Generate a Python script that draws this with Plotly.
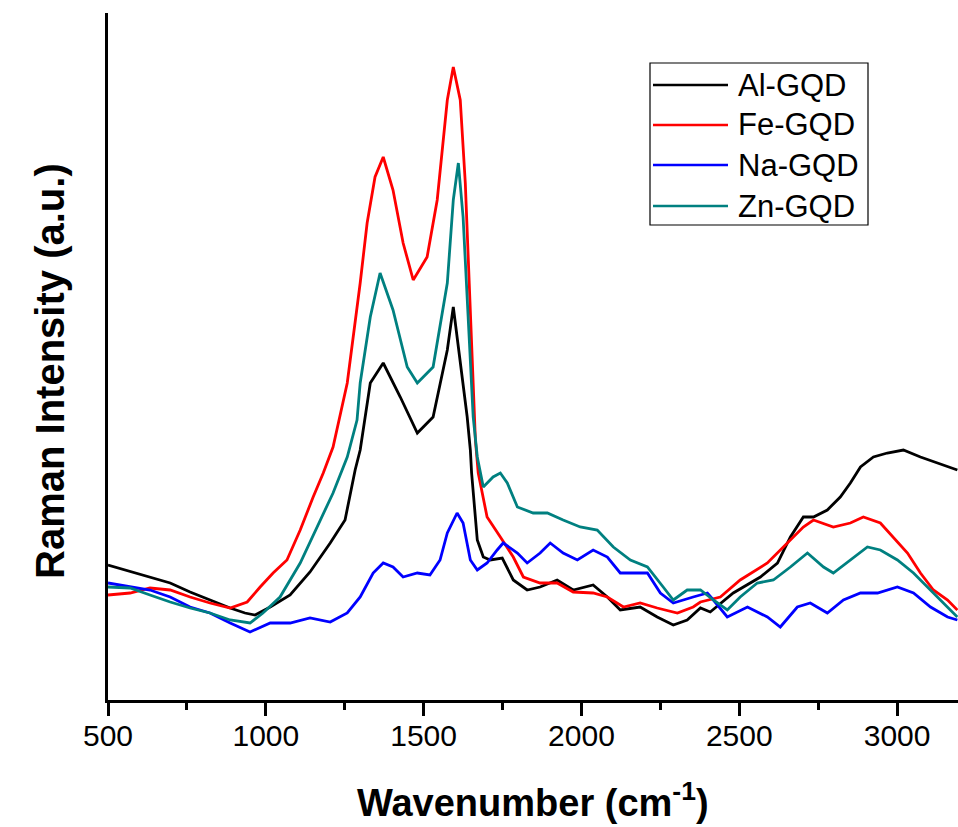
import plotly.graph_objects as go

# Al-GQD (black)
al_x = [500, 633, 697, 760, 823, 887, 934, 966, 1014, 1077, 1140, 1204, 1251, 1283, 1299, 1331, 1372,
        1426, 1480, 1530, 1575, 1594, 1638, 1648, 1652, 1670, 1689, 1711, 1749, 1784, 1828, 1869, 1923,
        1974, 2037, 2082, 2123, 2186, 2240, 2291, 2335, 2377, 2408, 2481, 2567, 2621, 2662, 2703, 2735,
        2779, 2820, 2852, 2884, 2925, 2969, 3020, 3074, 3128, 3191]
al_y = [135, 123, 117, 108, 100, 92, 87, 85, 93, 105, 128, 157, 180, 230, 250, 317, 337,
        303, 267, 283, 350, 393, 283, 250, 227, 160, 143, 140, 142, 120, 110, 113, 120,
        110, 115, 103, 90, 93, 83, 75, 80, 92, 88, 107, 123, 137, 163, 183, 183,
        190, 203, 217, 233, 243, 247, 250, 243, 237, 230]

# Fe-GQD (red)
fe_x = [500, 570, 633, 697, 760, 823, 887, 941, 982, 1023, 1067, 1109, 1150, 1182, 1213, 1258, 1299,
        1321, 1346, 1372, 1403, 1435, 1467, 1511, 1543, 1575, 1594, 1616, 1632, 1648, 1664, 1673, 1701,
        1743, 1784, 1816, 1869, 1923, 1974, 2037, 2082, 2133, 2186, 2240, 2304, 2354, 2377, 2440, 2503,
        2589, 2652, 2703, 2735, 2798, 2852, 2893, 2947, 2988, 3033, 3074, 3115, 3160, 3191]
fe_y = [105, 107, 112, 110, 103, 97, 92, 98, 113, 127, 140, 170, 203, 227, 253, 317, 417,
        477, 523, 543, 510, 457, 420, 443, 500, 600, 633, 600, 517, 383, 260, 227, 183,
        163, 143, 123, 117, 117, 108, 107, 103, 93, 97, 92, 87, 93, 98, 103, 120,
        137, 157, 173, 180, 173, 177, 183, 177, 163, 147, 127, 110, 100, 90]

# Na-GQD (blue)
na_x = [500, 570, 633, 697, 760, 823, 887, 950, 1014, 1077, 1140, 1204, 1258, 1299, 1340, 1372, 1403,
        1435, 1480, 1520, 1552, 1575, 1606, 1625, 1648, 1670, 1701, 1733, 1752, 1797, 1828, 1869, 1901,
        1942, 1987, 2037, 2082, 2123, 2164, 2209, 2250, 2291, 2354, 2399, 2418, 2462, 2526, 2589, 2630,
        2684, 2725, 2779, 2830, 2884, 2938, 3001, 3052, 3106, 3160, 3191]
na_y = [117, 113, 110, 103, 93, 87, 77, 68, 77, 77, 82, 78, 87, 103, 127, 137, 133,
        123, 127, 125, 140, 167, 187, 177, 140, 130, 137, 150, 157, 147, 137, 147, 157,
        147, 140, 150, 143, 127, 127, 127, 107, 97, 103, 107, 100, 83, 93, 83, 73,
        93, 97, 87, 100, 107, 107, 113, 107, 93, 83, 80]

# Zn-GQD (teal)
zn_x = [500, 570, 633, 697, 760, 823, 887, 950, 991, 1045, 1109, 1163, 1213, 1258, 1289, 1299, 1331,
        1362, 1403, 1448, 1480, 1530, 1575, 1594, 1610, 1625, 1641, 1657, 1670, 1689, 1720, 1743, 1765,
        1797, 1847, 1892, 1942, 1996, 2050, 2101, 2155, 2209, 2259, 2291, 2335, 2377, 2418, 2462, 2503,
        2557, 2608, 2662, 2716, 2767, 2798, 2852, 2906, 2947, 3001, 3052, 3106, 3160, 3191]
zn_y = [113, 112, 105, 98, 92, 87, 80, 77, 87, 103, 137, 173, 207, 243, 280, 317, 383,
        427, 390, 333, 317, 333, 417, 500, 537, 483, 383, 283, 243, 213, 223, 227, 217,
        193, 187, 187, 180, 173, 170, 153, 140, 133, 113, 100, 110, 110, 100, 90, 103,
        117, 120, 133, 147, 133, 127, 140, 153, 150, 140, 127, 110, 93, 83]

names = ["Al-GQD", "Fe-GQD", "Na-GQD", "Zn-GQD"]
colors = ["#000000", "#FF0000", "#0000FF", "#008080"]
xs = [al_x, fe_x, na_x, zn_x]
ys = [al_y, fe_y, na_y, zn_y]

x_ticks = [500, 1000, 1500, 2000, 2500, 3000]

FONT = "Arial, Liberation Sans, sans-serif"

fig = go.Figure()
for n, c, x, y in zip(names, colors, xs, ys):
    fig.add_trace(go.Scatter(x=x, y=y, mode="lines", name=n,
                             line=dict(color=c, width=2.8), showlegend=False))

fig.update_layout(
    width=958, height=827,
    margin=dict(l=108, r=0, t=13, b=127),
    plot_bgcolor="white", paper_bgcolor="white",
    font=dict(family=FONT, color="black"),
    xaxis=dict(range=[500, 3193], tickvals=x_ticks, ticktext=[str(v) for v in x_ticks],
               ticks="outside", ticklen=13, tickwidth=2.5, tickcolor="black",
               ticklabelstandoff=-6,
               minor=dict(dtick=250, tick0=500, ticks="outside", ticklen=7, tickwidth=2.5, tickcolor="black"),
               showline=True, linewidth=2.5, linecolor="black", showgrid=False, zeroline=False,
               tickfont=dict(size=30, family=FONT)),
    yaxis=dict(range=[0, 687], showticklabels=False, ticks="", showline=True, linewidth=2.5,
               linecolor="black", showgrid=False, zeroline=False),
)

# axis titles
fig.add_annotation(text="<b>Wavenumber (cm<sup>-1</sup>)</b>", xref="paper", yref="paper",
                   x=0.5, y=-0.1456, xanchor="center", yanchor="middle", showarrow=False,
                   font=dict(size=38, family=FONT))
fig.add_annotation(text="<b>Raman Intensity (a.u.)</b>", xref="paper", yref="paper",
                   x=(50 - 108) / 850, y=0.479, xanchor="center", yanchor="middle", textangle=-90,
                   showarrow=False, font=dict(size=40, family=FONT))

# legend box
def px_x(p):
    return (p - 108) / 850

def px_y(p):
    return (700 - p) / 687

fig.add_shape(type="rect", xref="paper", yref="paper", x0=px_x(650), x1=px_x(868),
              y0=px_y(225), y1=px_y(63), line=dict(color="black", width=1.2), fillcolor="white",
              layer="above")
rows = [85, 125, 165, 206]
for n, c, r in zip(names, colors, rows):
    fig.add_shape(type="line", xref="paper", yref="paper", x0=px_x(653), x1=px_x(728),
                  y0=px_y(r), y1=px_y(r), line=dict(color=c, width=2.5), layer="above")
    fig.add_annotation(text=n, xref="paper", yref="paper", x=px_x(736), y=px_y(r),
                       xanchor="left", yanchor="middle", showarrow=False,
                       font=dict(size=31, family=FONT))

fig.write_html("out.html", config={"displayModeBar": False},
               post_script="document.body.style.margin='0';document.body.style.overflow='hidden';")
